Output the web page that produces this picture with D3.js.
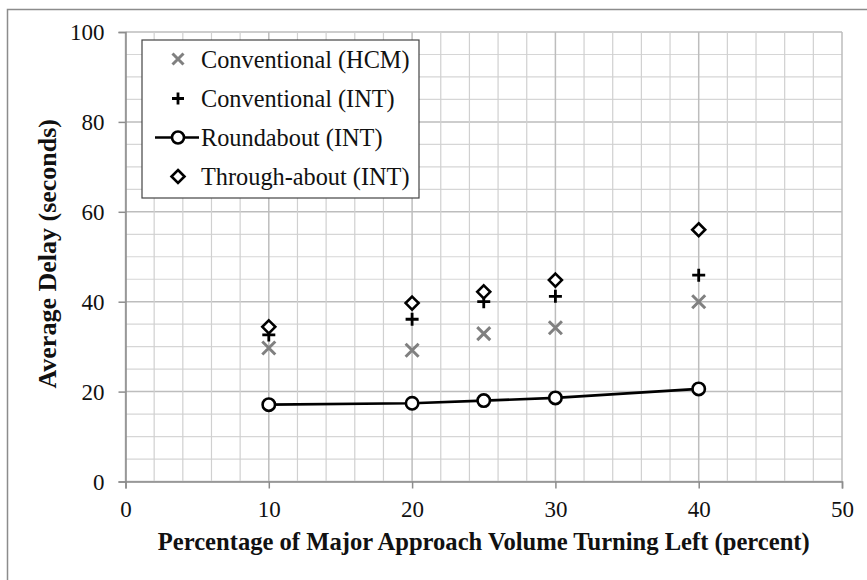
<!DOCTYPE html>
<html>
<head>
<meta charset="utf-8">
<script src="https://cdn.jsdelivr.net/npm/d3@7"></script>
<style>
  html, body { margin: 0; padding: 0; background: #fff; }
  svg text { font-family: "Liberation Serif", "Times New Roman", serif; }
</style>
</head>
<body>
<svg id="chart" width="867" height="580"></svg>
<script>
// ---- data ----
const categories = [10, 20, 25, 30, 40];
const conventionalHCM = [29.7, 29.2, 32.9, 34.2, 40.0];
const conventionalINT = [32.6, 36.1, 40.0, 41.2, 45.9];
const roundaboutINT = [17.1, 17.4, 18.0, 18.6, 20.6];
const throughaboutINT = [34.4, 39.7, 42.2, 44.8, 56.0];
const xTicks = [0, 10, 20, 30, 40, 50];
const yTicks = [0, 20, 40, 60, 80, 100];
const seriesNames = ["Conventional (HCM)", "Conventional (INT)", "Roundabout (INT)", "Through-about (INT)"];

const svg = d3.select("#chart");
const W = 867, H = 580;
const m = { left: 125.5, right: 867 - 842, top: 32, bottom: 580 - 481.5 };

const x = d3.scaleLinear().domain([0, 50]).range([m.left, W - m.right]);
const y = d3.scaleLinear().domain([0, 100]).range([H - m.bottom, m.top]);

// outer frame
svg.append("rect")
  .attr("x", 7.5).attr("y", 9.5).attr("width", 880).attr("height", 600)
  .attr("fill", "none").attr("stroke", "#8c8c8c").attr("stroke-width", 1.5);

// grid
const grid = svg.append("g");
d3.range(0, 101, 5).forEach(v => {
  const major = v % 20 === 0;
  grid.append("line")
    .attr("x1", x(0)).attr("x2", x(50))
    .attr("y1", y(v)).attr("y2", y(v))
    .attr("stroke", major ? "#bdbdbd" : "#d6d6d6")
    .attr("stroke-width", major ? 1.5 : 1.2);
});
d3.range(0, 51, 2).forEach(v => {
  const major = v % 10 === 0;
  grid.append("line")
    .attr("x1", x(v)).attr("x2", x(v))
    .attr("y1", y(0)).attr("y2", y(100))
    .attr("stroke", major ? "#bdbdbd" : "#d0d0d0")
    .attr("stroke-width", major ? 1.5 : 1.2);
});

// axes
const xAxis = svg.append("g")
  .attr("transform", `translate(0,${y(0)})`)
  .call(d3.axisBottom(x).tickValues(xTicks).tickSize(7).tickPadding(12).tickFormat(d3.format("d")));
const yAxis = svg.append("g")
  .attr("transform", `translate(${x(0)},0)`)
  .call(d3.axisLeft(y).tickValues(yTicks).tickSize(7).tickPadding(14).tickFormat(d3.format("d")));
[xAxis, yAxis].forEach(a => {
  a.select(".domain").attr("stroke", "#8c8c8c").attr("stroke-width", 1.5);
  a.selectAll(".tick line").attr("stroke", "#8c8c8c").attr("stroke-width", 1.5);
  a.selectAll(".tick text")
    .attr("fill", "#111")
    .style("font-family", "'Liberation Serif', serif")
    .style("font-size", "23px");
});
yAxis.selectAll(".tick text").attr("dy", "0.34em");
xAxis.selectAll(".tick text").attr("dy", "0.7em");

// axis titles
svg.append("text")
  .attr("x", (x(0) + x(50)) / 2).attr("y", 550)
  .attr("text-anchor", "middle")
  .style("font-size", "24.6px").style("font-weight", "bold").attr("fill", "#111")
  .text("Percentage of Major Approach Volume Turning Left (percent)");
svg.append("text")
  .attr("transform", `translate(56,${(y(0) + y(100)) / 2 - 3}) rotate(-90)`)
  .attr("text-anchor", "middle")
  .style("font-size", "26px").style("font-weight", "bold").attr("fill", "#111")
  .text("Average Delay (seconds)");

// marker painters
function drawX(g, cx, cy, s) {
  g.append("path")
    .attr("d", `M${cx - s},${cy - s}L${cx + s},${cy + s}M${cx - s},${cy + s}L${cx + s},${cy - s}`)
    .attr("stroke", "#808080").attr("stroke-width", 3).attr("fill", "none");
}
function drawPlus(g, cx, cy, s) {
  g.append("path")
    .attr("d", `M${cx - s},${cy}L${cx + s},${cy}M${cx},${cy - s}L${cx},${cy + s}`)
    .attr("stroke", "#000").attr("stroke-width", 2.8).attr("fill", "none");
}
function drawDiamond(g, cx, cy, s) {
  g.append("path")
    .attr("d", `M${cx},${cy - s}L${cx + s},${cy}L${cx},${cy + s}L${cx - s},${cy}Z`)
    .attr("stroke", "#000").attr("stroke-width", 2.6).attr("fill", "#fff");
}
function drawCircle(g, cx, cy, r) {
  g.append("circle").attr("cx", cx).attr("cy", cy).attr("r", r)
    .attr("stroke", "#000").attr("stroke-width", 2.6).attr("fill", "#fff");
}

const marks = svg.append("g");
// roundabout line
const line = d3.line().x((d, i) => x(categories[i])).y(d => y(d));
marks.append("path").datum(roundaboutINT)
  .attr("d", line).attr("fill", "none").attr("stroke", "#000").attr("stroke-width", 2.6);
categories.forEach((c, i) => drawX(marks, x(c), y(conventionalHCM[i]), 6.5));
categories.forEach((c, i) => drawPlus(marks, x(c), y(conventionalINT[i]), 6.5));
categories.forEach((c, i) => drawCircle(marks, x(c), y(roundaboutINT[i]), 6.2));
categories.forEach((c, i) => drawDiamond(marks, x(c), y(throughaboutINT[i]), 6.5));

// legend
const lg = svg.append("g");
lg.append("rect").attr("x", 142).attr("y", 40).attr("width", 277).attr("height", 158)
  .attr("fill", "#fff").attr("stroke", "#444").attr("stroke-width", 1.2);
const rowY = [59, 98.5, 137.5, 176.5];
const symX = 178;
drawX(lg, symX, rowY[0], 5.5);
drawPlus(lg, symX, rowY[1], 6);
lg.append("line").attr("x1", 155).attr("x2", 199).attr("y1", rowY[2]).attr("y2", rowY[2])
  .attr("stroke", "#000").attr("stroke-width", 2.6);
drawCircle(lg, symX, rowY[2], 6);
drawDiamond(lg, symX, rowY[3], 6.5);
seriesNames.forEach((n, i) => {
  lg.append("text").attr("x", 201).attr("y", rowY[i]).attr("dy", "0.35em")
    .style("font-size", "24.3px").attr("fill", "#111").text(n);
});
</script>
</body>
</html>
